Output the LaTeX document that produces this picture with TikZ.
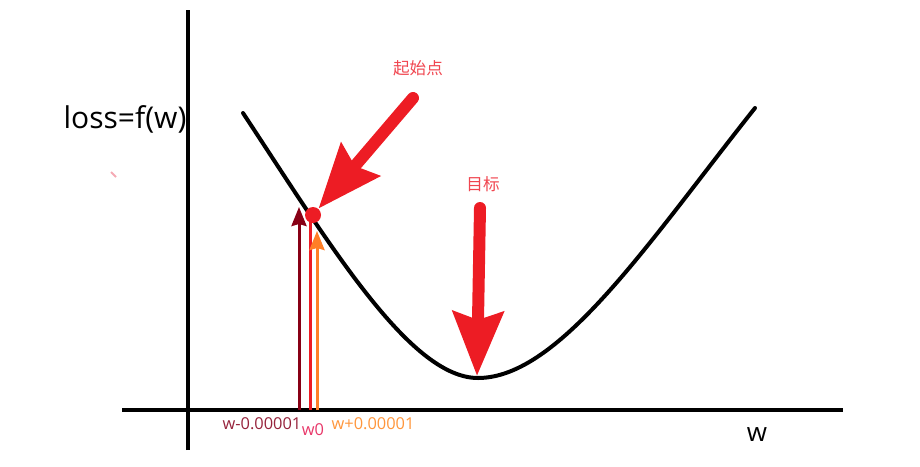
\documentclass[tikz,border=0pt]{standalone}
\usepackage{fontspec}
\setmainfont{Open Sans}
\newfontfamily\cjk{Noto Sans CJK SC}
\usepackage{tikz}
\usetikzlibrary{arrows.meta}
\definecolor{ArrowRed}{RGB}{237,28,36}
\definecolor{LabelRed}{RGB}{240,70,80}
\definecolor{DeepWine}{RGB}{136,0,21}
\definecolor{WineText}{RGB}{150,35,60}
\definecolor{PinkText}{RGB}{232,55,105}
\definecolor{OrangeTone}{RGB}{255,127,39}
\definecolor{OrangeText}{RGB}{255,150,60}
\definecolor{StrayPink}{RGB}{245,170,180}

\begin{document}
\begin{tikzpicture}[
  x=0.5pt, y=-0.5pt,
  axisline/.style={draw=black, line width=2pt},
  lossline/.style={draw=black, line width=2pt, line cap=round},
  bigarr/.style={
    draw=ArrowRed, line width=6pt, line cap=round,
    -{Stealth[length=32pt, width=25pt, inset=4pt]}
  },
  probe/.style={line width=1.5pt, -{Stealth[length=9.5pt, width=7.5pt, inset=1pt]}},
  tag/.style={font=\fontsize{8.2}{10}\selectfont, inner sep=0pt},
  cjktag/.style={font=\cjk\fontsize{8.3}{10}\selectfont, text=LabelRed, inner sep=0pt}
]
\useasboundingbox (0,0) rectangle (920,466);

%% Axes
\coordinate (yb) at (188,450);
\coordinate (yt) at (188,10);
\coordinate (xl) at (122,410);
\coordinate (xr) at (843,410);
\draw[axisline] (yb) -- (yt);
\draw[axisline] (xl) -- (xr);

%% Axis labels
\node[font=\fontsize{15}{18}\selectfont, inner sep=0pt] (ylab) at (125,119) {loss=f(w)};
\node[font=\fontsize{13}{16}\selectfont, inner sep=0pt] (xlab) at (757,435) {w};

%% Loss curve
\coordinate (c0) at (243,113);
\coordinate (cmin) at (478,378);
\coordinate (c1) at (755,108);
\draw[lossline] (c0) .. controls (330,245) and (410,378) .. (cmin)
                     .. controls (560,378) and (650,240) .. (c1);

%% Probes at w-0.00001, w0, w+0.00001
\node[circle, fill=ArrowRed, minimum size=8pt, inner sep=0pt] (start) at (313,215) {};
\coordinate (pm0) at (299,410);  \coordinate (pm1) at (299,207);
\coordinate (pz0) at (310,410);
\coordinate (pp0) at (317,410);  \coordinate (pp1) at (317,231);
\draw[probe, draw=DeepWine] (pm0) -- (pm1);
\draw[line width=1.5pt, draw=ArrowRed] (pz0) -- (pz0 |- start);
\draw[probe, draw=OrangeTone] (pp0) -- (pp1);

\node[tag, text=WineText] (lm) at (262,424) {w-0.00001};
\node[tag, text=PinkText] (lz) at (313,430) {w0};
\node[tag, text=OrangeText] (lp) at (373,424) {w+0.00001};

%% Start point and target
\coordinate (s1) at (413,98);
\draw[bigarr] (s1) -- (start);
\node[cjktag] (slab) at (418,68) {起始点};

\coordinate (g1) at (480,208);
\coordinate (goal) at (477,376);
\draw[bigarr] (g1) -- (goal);
\node[cjktag] (glab) at (483,184) {目标};

%% stray mark
\coordinate (st0) at (111,172);
\coordinate (st1) at (116,177);
\draw[StrayPink, line width=1pt] (st0) -- (st1);

\end{tikzpicture}
\end{document}
